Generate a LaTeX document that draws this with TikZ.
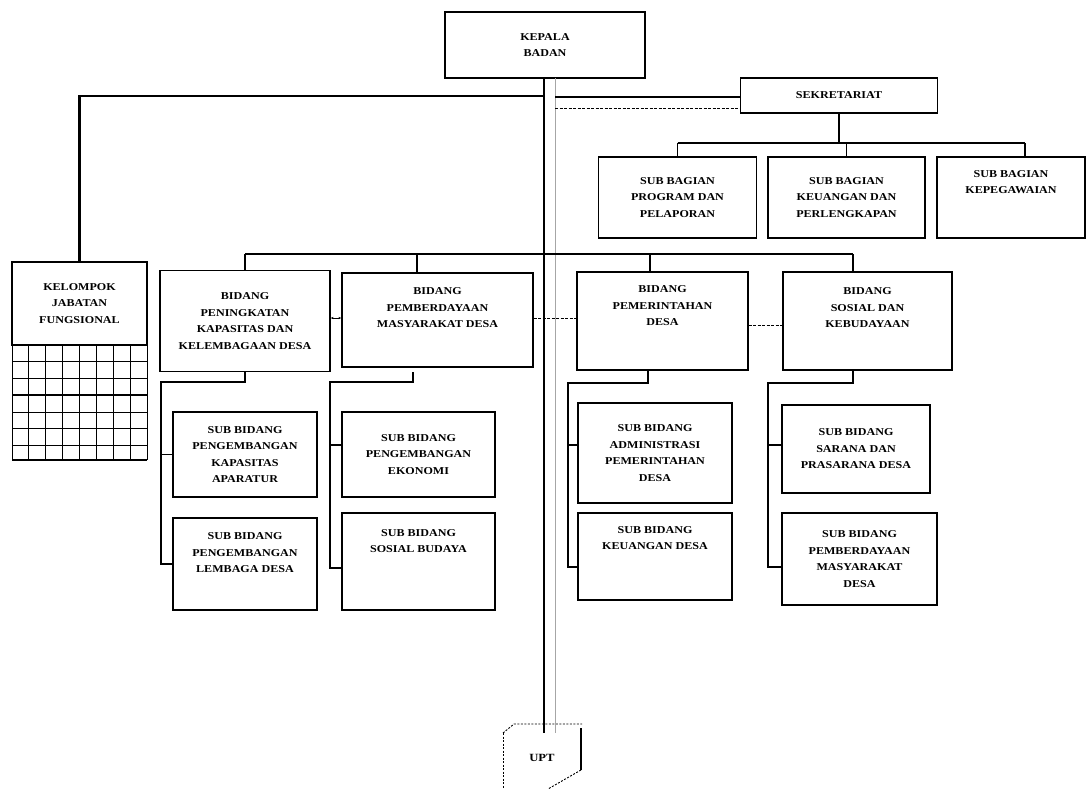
\documentclass[tikz,border=0pt]{standalone}
\usepackage{fontspec}
\setmainfont{Liberation Serif}
\newfontfamily\orgfont{Liberation Serif}[FakeStretch=1.15]
\usetikzlibrary{arrows.meta}
\begin{document}
\begin{tikzpicture}[x=1pt,y=-1pt,
  box/.style={draw, line width=1.3pt, align=center, inner sep=2pt,
    font=\orgfont\fontsize{10.5}{16.5}\selectfont\bfseries},
  wire/.style={line width=1.1pt},
  bold wire/.style={line width=2.6pt},
  coord/.style={line width=0.9pt, dashed, dash pattern=on 3pt off 1.5pt}]
\useasboundingbox (0,0) rectangle (1087,789);
\fill[white] (0,0) rectangle (1087,789);

% top level
\node[box, minimum width=200, minimum height=66] (kep) at (545,45) {KEPALA\\BADAN};
\node[box, minimum width=197, minimum height=35] (sek) at (839,95.5) {SEKRETARIAT};

% sub bagian
\node[box, minimum width=158, minimum height=81] (sb1) at (677.5,197.5) {SUB BAGIAN\\PROGRAM DAN\\PELAPORAN};
\node[box, minimum width=157, minimum height=81] (sb2) at (846.5,197.5) {SUB BAGIAN\\KEUANGAN DAN\\PERLENGKAPAN};
\node[box, minimum width=148, minimum height=81] (sb3) at (1011,197.5) {SUB BAGIAN\\KEPEGAWAIAN\\[14pt]};

% kelompok jabatan fungsional
\node[box, minimum width=135, minimum height=83] (kjf) at (79.5,303.5) {KELOMPOK\\JABATAN\\FUNGSIONAL};
\foreach \i in {0,...,8} \draw[line width=0.9pt] ({12+\i*16.875},345) -- ++(0,115);
\foreach \yy in {345,361,378,412,428,445} \draw[line width=0.9pt] (12,\yy) -- (147,\yy);
\draw[line width=2pt] (12,395) -- (147,395);
\draw[line width=2pt] (12,460) -- (147,460);

% bidang
\node[box, minimum width=170, minimum height=101] (b1) at (245,321) {BIDANG\\PENINGKATAN\\KAPASITAS DAN\\KELEMBAGAAN DESA};
\node[box, minimum width=191, minimum height=94] (b2) at (437.5,320) {BIDANG\\PEMBERDAYAAN\\MASYARAKAT DESA\\[8pt]};
\node[box, minimum width=171, minimum height=98] (b3) at (662.5,321) {BIDANG\\PEMERINTAHAN\\DESA\\[14pt]};
\node[box, minimum width=169, minimum height=98] (b4) at (867.5,321) {BIDANG\\SOSIAL DAN\\KEBUDAYAAN\\[10pt]};

% sub bidang
\node[box, minimum width=144, minimum height=85] (s1) at (245,454.5) {SUB BIDANG\\PENGEMBANGAN\\KAPASITAS\\APARATUR};
\node[box, minimum width=144, minimum height=92] (s2) at (245,564) {SUB BIDANG\\PENGEMBANGAN\\LEMBAGA DESA\\[6pt]};
\node[box, minimum width=153, minimum height=85] (s3) at (418.5,454.5) {SUB BIDANG\\PENGEMBANGAN\\EKONOMI};
\node[box, minimum width=153, minimum height=97] (s4) at (418.5,561.5) {SUB BIDANG\\SOSIAL BUDAYA\\[24pt]};
\node[box, minimum width=154, minimum height=100] (s5) at (655,453) {SUB BIDANG\\ADMINISTRASI\\PEMERINTAHAN\\DESA};
\node[box, minimum width=154, minimum height=87] (s6) at (655,556.5) {SUB BIDANG\\KEUANGAN DESA\\[20pt]};
\node[box, minimum width=148, minimum height=88] (s7) at (856,449) {SUB BIDANG\\SARANA DAN\\PRASARANA DESA};
\node[box, minimum width=155, minimum height=92] (s8) at (859.5,559) {SUB BIDANG\\PEMBERDAYAAN\\MASYARAKAT\\DESA};

% UPT
\node[font=\orgfont\fontsize{11}{13}\selectfont\bfseries, inner sep=1pt] (upt) at (542,758) {UPT};
\draw[line width=0.9pt, dash pattern=on 2pt off 1.5pt] (503,733) -- (514,724) -- (582,724);
\draw[line width=0.9pt, dash pattern=on 2pt off 1.5pt] (503,733) -- (503,789);
\draw[line width=1.1pt] (581,728) -- (581,770);
\draw[line width=0.9pt, dash pattern=on 2pt off 1.5pt] (581,770) -- (548,789);
\coordinate (uptTop) at (544,733);

% main vertical command line
\coordinate (kepB) at (544,78);
\draw[line width=2pt] (kepB) -- (uptTop);
\draw[line width=0.6pt, gray!70] (555,78) -- (555,733);

% kelompok jabatan fungsional line
\coordinate (m1) at (544,96);
\draw[bold wire] (m1) -| (kjf.north);

% sekretariat line and coordination line
\coordinate (m2) at (555,97);
\coordinate (m3) at (555,108);
\draw[bold wire] (m2) -- (m2 -| sek.west);
\draw[coord] (m3) -- (m3 -| sek.west);

% sekretariat to sub bagian
\coordinate (busS) at (839,143);
\draw[wire] (sek.south) -- (busS);
\draw[wire] (sb1.north |- busS) -- (1025,143);
\draw[wire] (sb1.north |- busS) -- (sb1.north);
\draw[wire] (sb2.north |- busS) -- (sb2.north);
\coordinate (t3) at (1025,143);
\draw[wire] (t3) -- (t3 |- sb3.north);

% bidang bus
\coordinate (busL) at (245,254);
\coordinate (busR) at (853,254);
\draw[wire] (busL) -- (busR);
\draw[wire] (busL) -- (b1.north);
\coordinate (t2) at (417,254);
\draw[wire] (t2) -- (t2 |- b2.north);
\coordinate (t3b) at (650,254);
\draw[wire] (t3b) -- (t3b |- b3.north);
\draw[wire] (busR) -- (busR |- b4.north);

% coordination between bidang
\draw[line width=0.8pt, {Stealth[length=3pt]}-{Stealth[length=3pt]}] (b1.east |- 0,318) -- (b2.west |- 0,318);
\draw[coord] (b2.east |- 0,318) -- (b3.west |- 0,318);
\draw[coord] (b3.east |- 0,325) -- (b4.west |- 0,325);

% bidang 1 branch
\coordinate (c1a) at (245,382);
\coordinate (c1b) at (161,382);
\draw[wire] (b1.south) -- (c1a) -- (c1b) |- (s2.west);
\draw[wire] (c1b |- s1.west) -- (s1.west);
% bidang 2 branch
\coordinate (c2a) at (413,372);
\coordinate (c2b) at (413,382);
\coordinate (c2c) at (330,382);
\draw[wire] (c2a) -- (c2b) -- (c2c) |- (s4.west |- 0,568);
\draw[wire] (c2c |- 0,445) -- (s3.west |- 0,445);
% bidang 3 branch
\coordinate (c3a) at (648,370);
\coordinate (c3b) at (648,383);
\coordinate (c3c) at (568,383);
\draw[wire] (c3a) -- (c3b) -- (c3c) |- (s6.west |- 0,567);
\draw[wire] (c3c |- 0,445) -- (s5.west |- 0,445);
% bidang 4 branch
\coordinate (c4a) at (853,370);
\coordinate (c4b) at (853,383);
\coordinate (c4c) at (768,383);
\draw[wire] (c4a) -- (c4b) -- (c4c) |- (s8.west |- 0,567);
\draw[wire] (c4c |- 0,445) -- (s7.west |- 0,445);
\end{tikzpicture}
\end{document}
